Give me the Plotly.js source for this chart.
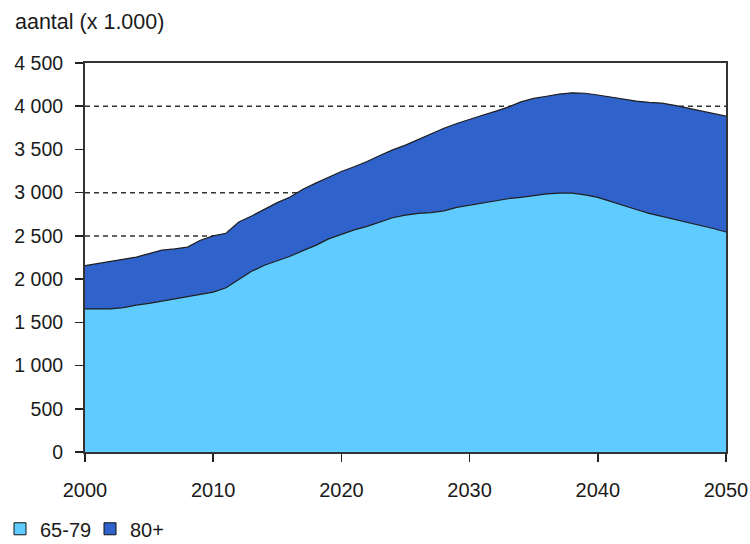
<!DOCTYPE html>
<html>
<head>
<meta charset="utf-8">
<script src="https://cdn.plot.ly/plotly-3.0.1.min.js"></script>
<style>html,body{margin:0;padding:0;background:#fff;}#chart{width:750px;height:544px;}</style>
</head>
<body>
<div id="chart"></div>
<script>
const years = [2000,2001,2002,2003,2004,2005,2006,2007,2008,2009,
               2010,2011,2012,2013,2014,2015,2016,2017,2018,2019,
               2020,2021,2022,2023,2024,2025,2026,2027,2028,2029,
               2030,2031,2032,2033,2034,2035,2036,2037,2038,2039,
               2040,2041,2042,2043,2044,2045,2046,2047,2048,2049,2050];
// 65-79 year olds (x 1,000)
const age65to79 = [1655,1655,1655,1670,1700,1720,1745,1770,1795,1820,
                   1850,1900,2000,2090,2160,2215,2265,2330,2390,2465,
                   2520,2570,2610,2660,2710,2740,2760,2770,2790,2830,
                   2855,2880,2910,2930,2945,2965,2985,2995,2995,2975,
                   2945,2900,2850,2805,2760,2725,2690,2660,2620,2585,2545];
// total 65+ (x 1,000); 80+ is total minus 65-79
const total65plus = [2155,2180,2205,2230,2255,2295,2335,2350,2370,2450,
                     2500,2530,2660,2730,2810,2885,2950,3040,3110,3180,
                     3245,3300,3360,3430,3495,3550,3615,3680,3745,3800,
                     3850,3895,3940,3990,4050,4090,4115,4140,4155,4150,
                     4130,4105,4085,4060,4045,4035,4010,3980,3945,3915,3885];
const age80plus = total65plus.map((t, i) => t - age65to79[i]);

const seriesNames = ['65-79', '80+'];
const yTickVals = [0,500,1000,1500,2000,2500,3000,3500,4000,4500];
const xTickVals = [2000,2010,2020,2030,2040,2050];
const gridValues = [2500, 3000, 4000];

const lightBlue = '#5fcbff';
const darkBlue = '#2f62cb';
const edge = '#1e1e1e';
const fontFam = '"Liberation Sans", Arial, sans-serif';

const traces = [
  {x: years, y: age65to79, type: 'scatter', mode: 'lines', stackgroup: 'one',
   fillcolor: lightBlue, line: {color: edge, width: 1.2}, name: seriesNames[0],
   showlegend: false, hoverinfo: 'skip'},
  {x: years, y: age80plus, type: 'scatter', mode: 'lines', stackgroup: 'one',
   fillcolor: darkBlue, line: {color: edge, width: 1.2}, name: seriesNames[1],
   showlegend: false, hoverinfo: 'skip'},
  {x: [null], y: [null], type: 'scatter', mode: 'markers', name: seriesNames[0],
   marker: {symbol: 'square', size: 12, color: lightBlue, line: {color: '#111', width: 1}}},
  {x: [null], y: [null], type: 'scatter', mode: 'markers', name: seriesNames[1],
   marker: {symbol: 'square', size: 12, color: darkBlue, line: {color: '#111', width: 1}}}
];

const layout = {
  width: 750, height: 544,
  margin: {l: 85, r: 24, t: 63, b: 91.5},
  paper_bgcolor: '#ffffff', plot_bgcolor: '#ffffff',
  font: {family: fontFam, size: 18, color: '#1a1a1a'},
  separators: ', ',
  showlegend: true,
  legend: {orientation: 'h', traceorder: 'normal', xref: 'container', yref: 'container', x: 0.0, y: 0.028,
           xanchor: 'left', yanchor: 'middle', font: {size: 20, color: '#1a1a1a'},
           itemwidth: 30, entrywidth: 45, entrywidthmode: 'pixels', tracegroupgap: 0,
           bgcolor: 'rgba(0,0,0,0)'},
  xaxis: {range: [2000, 2050], tickvals: xTickVals, ticks: 'outside', ticklen: 8, tickwidth: 1.5,
          tickcolor: '#222', showline: true, linecolor: '#333', linewidth: 2, mirror: true,
          showgrid: false, zeroline: false, tickfont: {size: 20, color: '#1a1a1a'},
          ticklabelstandoff: 11, fixedrange: true},
  yaxis: {range: [0, 4500], tickvals: yTickVals, tickformat: ',d', ticks: 'outside', ticklen: 8,
          tickwidth: 1.5, tickcolor: '#222', showline: true, linecolor: '#333', linewidth: 2,
          mirror: true, showgrid: false, zeroline: false, tickfont: {size: 19.5, color: '#1a1a1a'},
          ticklabelstandoff: 8, fixedrange: true},
  shapes: gridValues.map(v => ({type: 'line', xref: 'paper', x0: 0, x1: 1, yref: 'y', y0: v, y1: v,
          layer: 'below', line: {color: '#333', width: 1.5, dash: '5px,4px'}})),
  annotations: [{text: 'aantal (x 1.000)', xref: 'paper', yref: 'paper', x: -0.1124, y: 1.105,
                 xanchor: 'left', yanchor: 'middle', showarrow: false,
                 font: {size: 21.5, color: '#1a1a1a'}}]
};

Plotly.newPlot('chart', traces, layout, {displayModeBar: false, staticPlot: true});
</script>
</body>
</html>
